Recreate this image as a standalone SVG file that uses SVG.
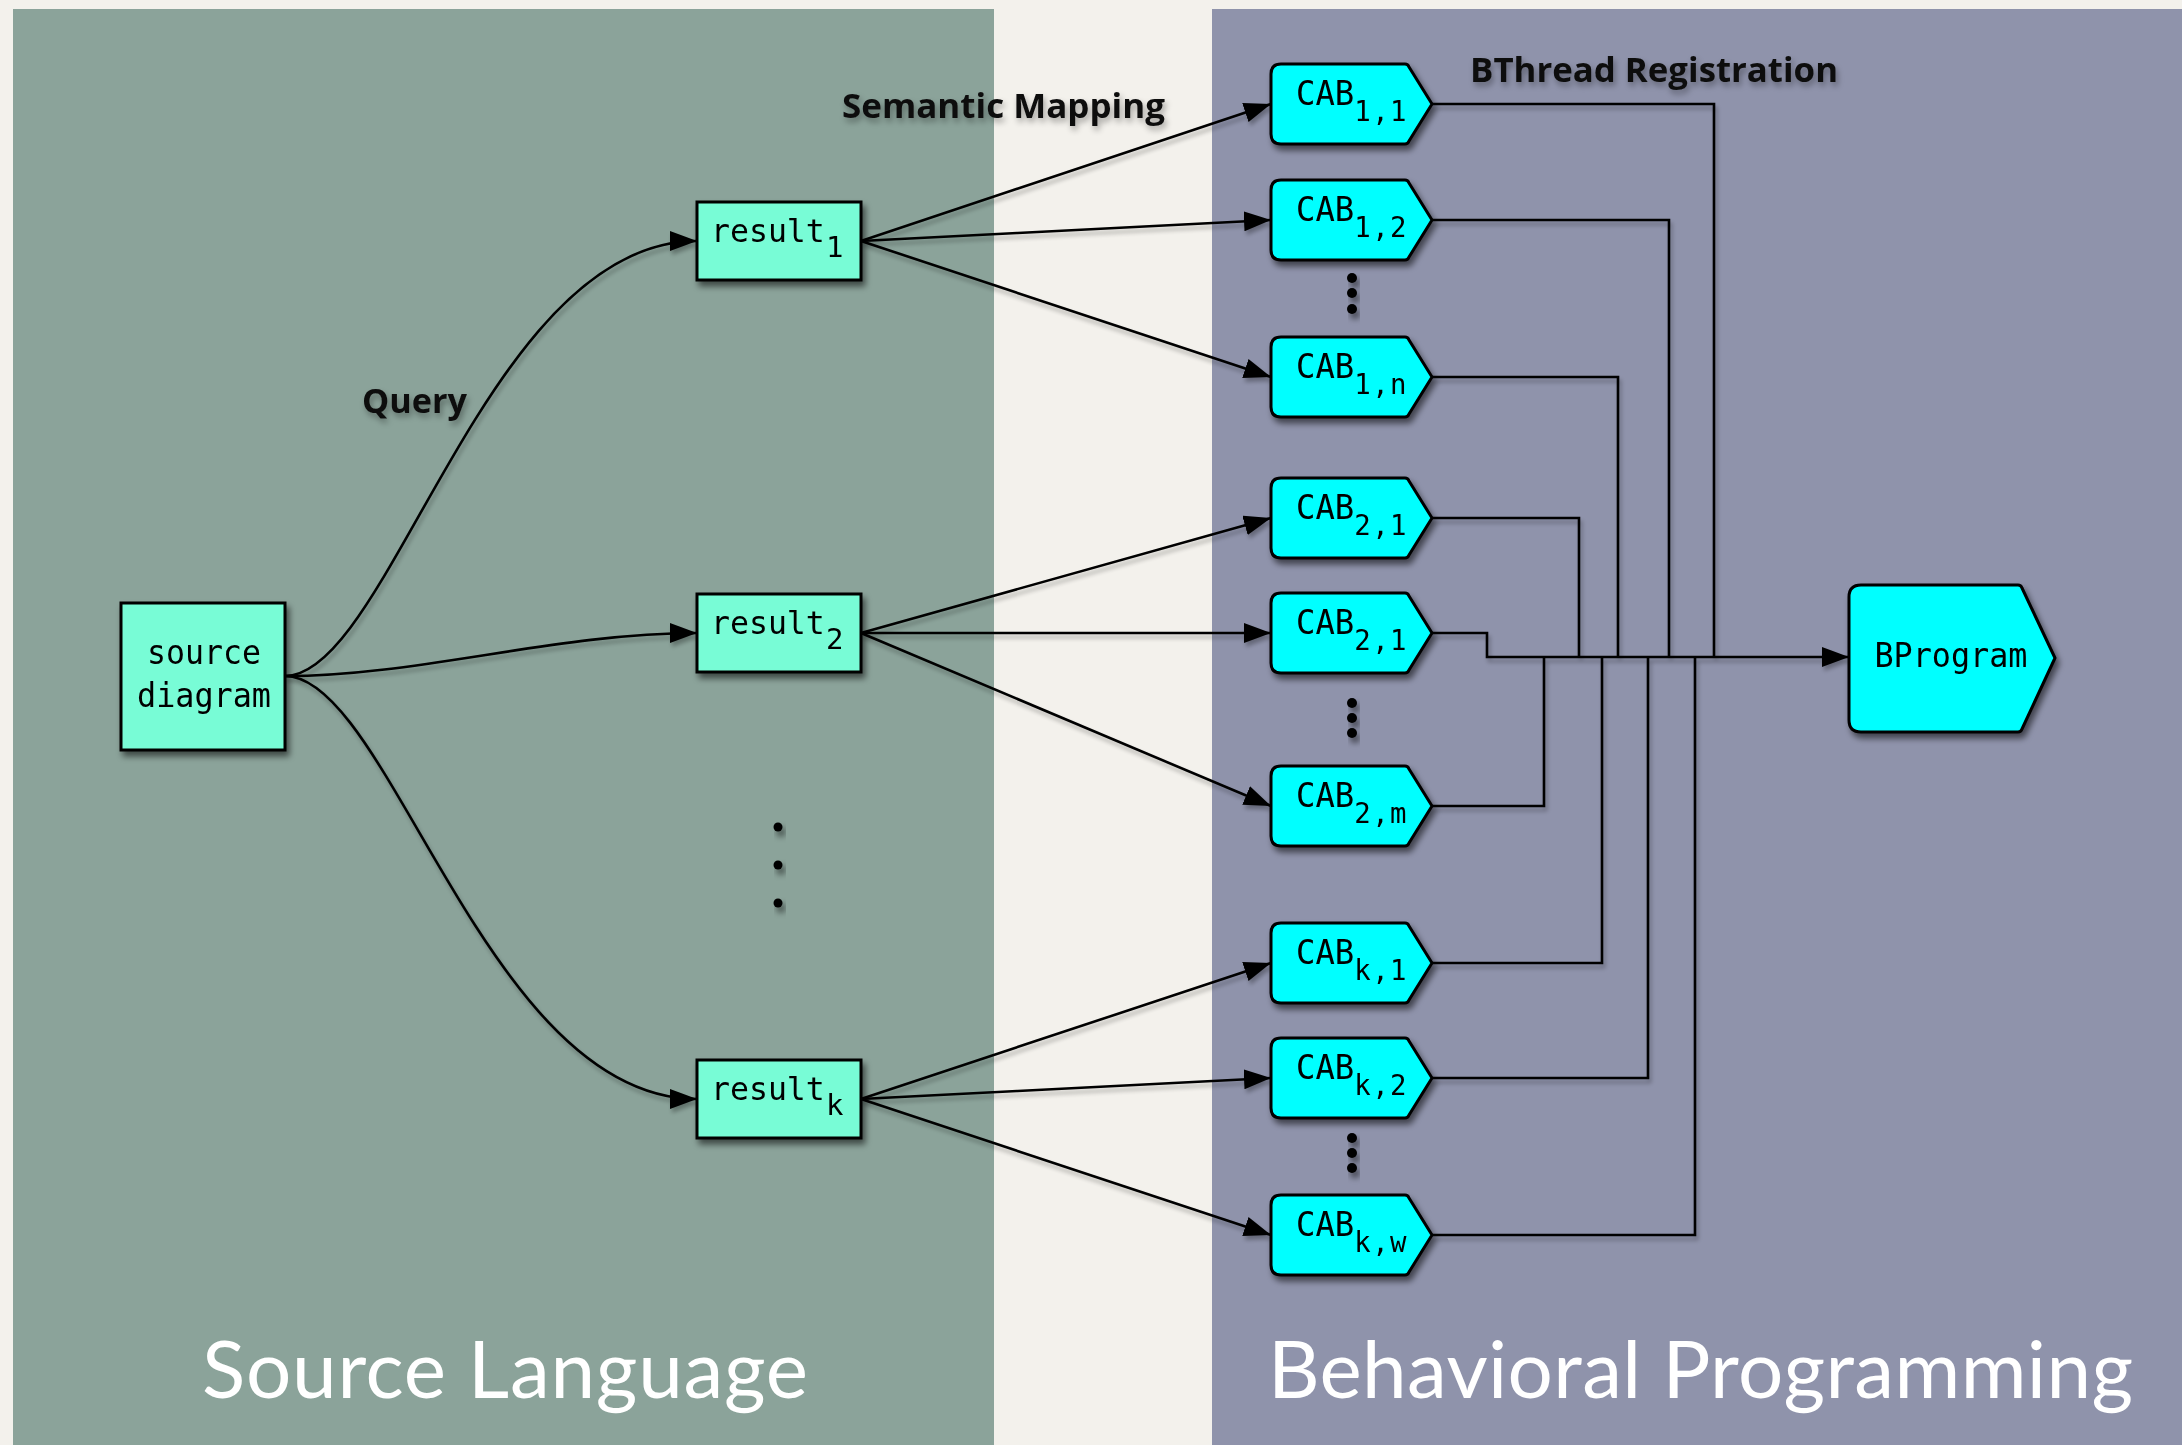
<svg xmlns="http://www.w3.org/2000/svg" xmlns:xlink="http://www.w3.org/1999/xlink" width="2182" height="1445" viewBox="0 0 2182 1445">
  <style>
    .mono { font-family: "DejaVu Sans Mono", "Liberation Mono", monospace; font-size: 33px; fill: #000; }
    .sub { font-size: 28px; letter-spacing: 1.5px; }
    .res { font-size: 31.5px; }
    .rsub { font-size: 29px; }
    .label { font-family: "Open Sans", "Noto Sans", sans-serif; font-weight: 700; font-size: 34px; fill: #111; }
    .title { font-family: Lato, "Open Sans", sans-serif; font-weight: 400; font-size: 80px; fill: #fff; }
    .box { fill: #78fcd6; stroke: #000; stroke-width: 3; }
    .cab { fill: #00ffff; stroke: #000; stroke-width: 3; stroke-linejoin: round; }
    .edge { fill: none; stroke: #000; stroke-width: 2.6; }
    .wire { fill: none; stroke: #000; stroke-width: 2.6; }
    .dot { fill: #000; }
  </style>
  <defs>
    <filter id="shadow" x="-20%" y="-20%" width="150%" height="160%">
      <feGaussianBlur in="SourceAlpha" stdDeviation="3"/>
      <feOffset dx="3" dy="5" result="o"/>
      <feComponentTransfer><feFuncA type="linear" slope="0.55"/></feComponentTransfer>
      <feMerge><feMergeNode/><feMergeNode in="SourceGraphic"/></feMerge>
    </filter>
    <filter id="lineShadow" x="-5%" y="-5%" width="110%" height="110%">
      <feGaussianBlur in="SourceAlpha" stdDeviation="2"/>
      <feOffset dx="2" dy="4" result="o"/>
      <feComponentTransfer><feFuncA type="linear" slope="0.3"/></feComponentTransfer>
      <feMerge><feMergeNode/><feMergeNode in="SourceGraphic"/></feMerge>
    </filter>
    <filter id="textShadow" x="-10%" y="-30%" width="120%" height="170%">
      <feGaussianBlur in="SourceAlpha" stdDeviation="3"/>
      <feOffset dx="2" dy="4" result="o"/>
      <feComponentTransfer><feFuncA type="linear" slope="0.35"/></feComponentTransfer>
      <feMerge><feMergeNode/><feMergeNode in="SourceGraphic"/></feMerge>
    </filter>
    <marker id="arrow" markerUnits="userSpaceOnUse" markerWidth="30" markerHeight="22" refX="27" refY="10" orient="auto">
      <path d="M0,0 L27,10 L0,20 Z" fill="#000"/>
    </marker>
    <!-- hexagonal CAB tag shape, 161 x 80 -->
    <path id="cabShape" d="M10,0 H134 Q137,0 138,3 L161,40 L138,77 Q137,80 134,80 H10 Q0,80 0,70 V10 Q0,0 10,0 Z"/>
  </defs>

  <!-- backdrop and the two panels -->
  <rect x="0" y="0" width="2182" height="1445" fill="#f3f1ec"/>
  <rect x="13" y="9" width="981" height="1436" fill="#8ba39a"/>
  <rect x="1212" y="9" width="970" height="1436" fill="#8f93ab"/>
  <text class="title" x="202" y="1398" textLength="606">Source Language</text>
  <text class="title" x="1268" y="1398" textLength="865">Behavioral Programming</text>

  <!-- connectors -->
  <g id="connectors" filter="url(#lineShadow)">
    <!-- queries -->
    <path class="edge" marker-end="url(#arrow)" d="M285,676 C390,676 487,241 697,241"/>
    <path class="edge" marker-end="url(#arrow)" d="M285,676 C418,676 557,633 697,633"/>
    <path class="edge" marker-end="url(#arrow)" d="M285,676 C390,676 487,1099 697,1099"/>
    <!-- semantic mapping -->
    <path class="edge" marker-end="url(#arrow)" d="M861,241 L1271,104"/>
    <path class="edge" marker-end="url(#arrow)" d="M861,241 L1271,220"/>
    <path class="edge" marker-end="url(#arrow)" d="M861,241 L1271,377"/>
    <path class="edge" marker-end="url(#arrow)" d="M861,633 L1271,518"/>
    <path class="edge" marker-end="url(#arrow)" d="M861,633 L1271,633"/>
    <path class="edge" marker-end="url(#arrow)" d="M861,633 L1271,806"/>
    <path class="edge" marker-end="url(#arrow)" d="M861,1099 L1271,963"/>
    <path class="edge" marker-end="url(#arrow)" d="M861,1099 L1271,1078"/>
    <path class="edge" marker-end="url(#arrow)" d="M861,1099 L1271,1235"/>
    <!-- bthread registration bus -->
    <path class="wire" d="M1432,104 H1714 V657"/>
    <path class="wire" d="M1432,220 H1669 V657"/>
    <path class="wire" d="M1432,377 H1618 V657"/>
    <path class="wire" d="M1432,518 H1579 V657"/>
    <path class="wire" d="M1432,806 H1544 V657"/>
    <path class="wire" d="M1432,963 H1602 V657"/>
    <path class="wire" d="M1432,1078 H1648 V657"/>
    <path class="wire" d="M1432,1235 H1695 V657"/>
    <path class="wire" marker-end="url(#arrow)" d="M1432,633 H1487 V657 H1849"/>
  </g>

  <!-- edge labels -->
  <g id="labels" filter="url(#textShadow)">
    <text class="label" x="362" y="413" textLength="105" lengthAdjust="spacingAndGlyphs">Query</text>
    <text class="label" x="842" y="118" textLength="323" lengthAdjust="spacingAndGlyphs">Semantic Mapping</text>
    <text class="label" x="1470" y="82" textLength="368" lengthAdjust="spacingAndGlyphs">BThread Registration</text>
  </g>

  <!-- source side nodes -->
  <g id="source-diagram" filter="url(#shadow)">
    <rect class="box" x="121" y="603" width="164" height="147"/>
    <text class="mono" x="204" y="664" text-anchor="middle" textLength="114" lengthAdjust="spacingAndGlyphs">source</text>
    <text class="mono" x="204" y="707" text-anchor="middle" textLength="134" lengthAdjust="spacingAndGlyphs">diagram</text>
  </g>
  <g id="result-1" filter="url(#shadow)">
    <rect class="box" x="697" y="202" width="164" height="78"/>
    <text class="mono res" x="711" y="242">result<tspan class="rsub" x="826" dy="15">1</tspan></text>
  </g>
  <g id="result-2" filter="url(#shadow)">
    <rect class="box" x="697" y="594" width="164" height="78"/>
    <text class="mono res" x="711" y="634">result<tspan class="rsub" x="826" dy="15">2</tspan></text>
  </g>
  <g id="result-k" filter="url(#shadow)">
    <rect class="box" x="697" y="1060" width="164" height="78"/>
    <text class="mono res" x="711" y="1100">result<tspan class="rsub" x="826" dy="15">k</tspan></text>
  </g>
  <g id="result-ellipsis" filter="url(#shadow)">
    <circle class="dot" cx="778" cy="827" r="4.5"/>
    <circle class="dot" cx="778" cy="865" r="4.5"/>
    <circle class="dot" cx="778" cy="903" r="4.5"/>
  </g>

  <!-- CAB nodes -->
  <g id="cab-1-1" filter="url(#shadow)">
    <use href="#cabShape" class="cab" x="1271" y="64"/>
    <text class="mono" x="1296" y="105" textLength="112" lengthAdjust="spacingAndGlyphs">CAB<tspan class="sub" dy="16">1,1</tspan></text>
  </g>
  <g id="cab-1-2" filter="url(#shadow)">
    <use href="#cabShape" class="cab" x="1271" y="180"/>
    <text class="mono" x="1296" y="221" textLength="112" lengthAdjust="spacingAndGlyphs">CAB<tspan class="sub" dy="16">1,2</tspan></text>
  </g>
  <g id="cab-1-ellipsis" filter="url(#shadow)">
    <circle class="dot" cx="1352" cy="278" r="5"/>
    <circle class="dot" cx="1352" cy="293" r="5"/>
    <circle class="dot" cx="1352" cy="309" r="5"/>
  </g>
  <g id="cab-1-n" filter="url(#shadow)">
    <use href="#cabShape" class="cab" x="1271" y="337"/>
    <text class="mono" x="1296" y="378" textLength="112" lengthAdjust="spacingAndGlyphs">CAB<tspan class="sub" dy="16">1,n</tspan></text>
  </g>
  <g id="cab-2-1a" filter="url(#shadow)">
    <use href="#cabShape" class="cab" x="1271" y="478"/>
    <text class="mono" x="1296" y="519" textLength="112" lengthAdjust="spacingAndGlyphs">CAB<tspan class="sub" dy="16">2,1</tspan></text>
  </g>
  <g id="cab-2-1b" filter="url(#shadow)">
    <use href="#cabShape" class="cab" x="1271" y="593"/>
    <text class="mono" x="1296" y="634" textLength="112" lengthAdjust="spacingAndGlyphs">CAB<tspan class="sub" dy="16">2,1</tspan></text>
  </g>
  <g id="cab-2-ellipsis" filter="url(#shadow)">
    <circle class="dot" cx="1352" cy="703" r="5"/>
    <circle class="dot" cx="1352" cy="718" r="5"/>
    <circle class="dot" cx="1352" cy="733" r="5"/>
  </g>
  <g id="cab-2-m" filter="url(#shadow)">
    <use href="#cabShape" class="cab" x="1271" y="766"/>
    <text class="mono" x="1296" y="807" textLength="112" lengthAdjust="spacingAndGlyphs">CAB<tspan class="sub" dy="16">2,m</tspan></text>
  </g>
  <g id="cab-k-1" filter="url(#shadow)">
    <use href="#cabShape" class="cab" x="1271" y="923"/>
    <text class="mono" x="1296" y="964" textLength="112" lengthAdjust="spacingAndGlyphs">CAB<tspan class="sub" dy="16">k,1</tspan></text>
  </g>
  <g id="cab-k-2" filter="url(#shadow)">
    <use href="#cabShape" class="cab" x="1271" y="1038"/>
    <text class="mono" x="1296" y="1079" textLength="112" lengthAdjust="spacingAndGlyphs">CAB<tspan class="sub" dy="16">k,2</tspan></text>
  </g>
  <g id="cab-k-ellipsis" filter="url(#shadow)">
    <circle class="dot" cx="1352" cy="1138" r="5"/>
    <circle class="dot" cx="1352" cy="1153" r="5"/>
    <circle class="dot" cx="1352" cy="1168" r="5"/>
  </g>
  <g id="cab-k-w" filter="url(#shadow)">
    <use href="#cabShape" class="cab" x="1271" y="1195"/>
    <text class="mono" x="1296" y="1236" textLength="112" lengthAdjust="spacingAndGlyphs">CAB<tspan class="sub" dy="16">k,w</tspan></text>
  </g>

  <!-- behavioral program -->
  <g id="bprogram" filter="url(#shadow)">
    <path class="cab" d="M1861,585 H2018 Q2021,585 2022,588 L2055,658 L2022,729 Q2021,732 2018,732 H1861 Q1849,732 1849,720 V597 Q1849,585 1861,585 Z"/>
    <text class="mono" x="1951" y="667" text-anchor="middle" textLength="153" lengthAdjust="spacingAndGlyphs">BProgram</text>
  </g>
</svg>
